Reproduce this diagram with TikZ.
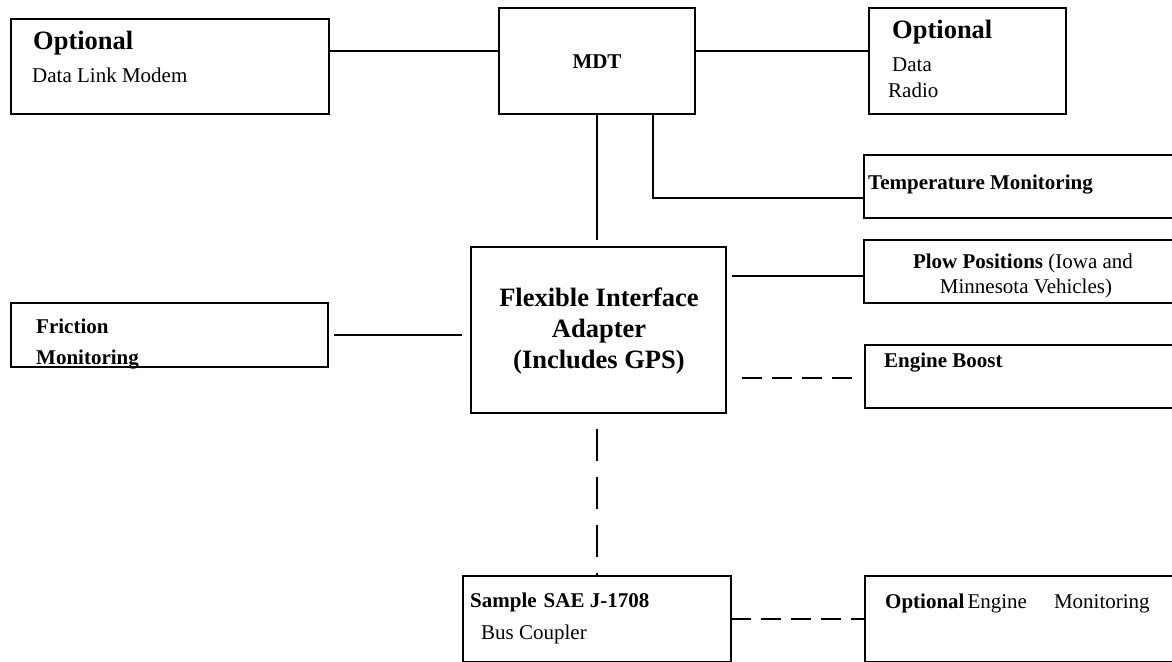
\documentclass[tikz,border=0pt]{standalone}
\usepackage{fontspec}
\setmainfont{Liberation Serif}
\usetikzlibrary{calc}
\begin{document}
\begin{tikzpicture}[x=1pt,y=-1pt,
  box/.style={draw, line width=1.6pt, rectangle, inner sep=0pt, outer sep=0pt, anchor=north west},
  txt/.style={inner sep=0pt, anchor=base west, font=\fontsize{21}{25}\selectfont},
  btxt/.style={txt, font=\fontsize{21}{25}\selectfont\bfseries},
  bigtxt/.style={txt, font=\fontsize{26.5}{31}\selectfont\bfseries},
  wire/.style={line width=1.6pt},
  hdash/.style={wire, dash pattern=on 20pt off 10pt},
  vdash/.style={wire, dash pattern=on 32pt off 16pt, dash phase=32pt}]
\useasboundingbox (0,0) rectangle (1172,661);
% boxes
\node[box, minimum width=318pt, minimum height=95pt]  (dlm)    at (11,19)   {};
\node[box, minimum width=196pt, minimum height=106pt] (mdt)    at (499,8)   {};
\node[box, minimum width=197pt, minimum height=106pt] (radio)  at (869,8)   {};
\node[box, minimum width=320pt, minimum height=63pt]  (temp)   at (864,155) {};
\node[box, minimum width=255pt, minimum height=166pt] (fia)    at (471,247) {};
\node[box, minimum width=320pt, minimum height=63pt]  (plow)   at (864,240) {};
\node[box, minimum width=317pt, minimum height=64pt]  (fric)   at (11,303)  {};
\node[box, minimum width=320pt, minimum height=63pt]  (boost)  at (865,345) {};
\node[box, minimum width=268pt, minimum height=86pt]  (sample) at (463,576) {};
\node[box, minimum width=320pt, minimum height=86pt]  (oem)    at (865,576) {};
% texts
\node[bigtxt] (t1a) at (33,50) {Optional};
\node[txt]    (t1b) at (32,82) {Data Link Modem};
\node[btxt, anchor=base] (t2) at (597,68) {MDT};
\node[bigtxt] (t3a) at (892,39) {Optional};
\node[txt]    (t3b) at (892,71) {Data};
\node[txt]    (t3c) at (888,97) {Radio};
\node[btxt]   (t4)  at (868,189) {Temperature Monitoring};
\node[inner sep=0pt, align=center, font=\fontsize{26.5}{31}\selectfont\bfseries] (t5) at (599,331) {Flexible Interface\\Adapter\\(Includes GPS)};
\node[txt, anchor=base] (t6a) at (1023,268) {\textbf{Plow Positions} (Iowa and};
\node[txt, anchor=base] (t6b) at (1026,293) {Minnesota Vehicles)};
\node[btxt]   (t7a) at (36,333) {Friction};
\node[btxt]   (t7b) at (36,364) {Monitoring};
\node[btxt]   (t8)  at (884,367) {Engine Boost};
\node[btxt]   (t9a) at (470,607) {Sample\hspace{7pt}SAE J-1708};
\node[txt]    (t9b) at (481,639) {Bus Coupler};
\node[txt]    (t10) at (885,608) {\textbf{Optional}\hspace{3pt}Engine\hspace{27pt}Monitoring};
% connectors
\coordinate (j1) at ([yshift=-32pt]dlm.north east);
\draw[wire] (j1) -- (j1 -| mdt.west);
\draw[wire] (j1 -| mdt.east) -- (j1 -| radio.west);
\draw[wire, shorten >=7pt] (mdt.south) -- (mdt.south |- fia.north);
\coordinate (k1) at ([xshift=56pt]mdt.south);
\coordinate (k2) at ([yshift=-43pt]temp.north west);
\draw[wire] (k1) |- (k2);
\coordinate (p1) at ([yshift=-36pt]plow.north west);
\draw[wire, shorten <=6pt] (p1 -| fia.east) -- (p1);
\draw[wire, shorten <=6pt, shorten >=9pt] (fric.east) -- (fric.east -| fia.west);
\coordinate (b1) at ([yshift=-1.5pt]boost.west);
\draw[hdash, shorten <=16pt, shorten >=8pt] (b1 -| fia.east) -- (b1);
\draw[vdash] (sample.north |- fia.south) -- (sample.north);
\draw[hdash] (sample.east) -- (oem.west);
\end{tikzpicture}
\end{document}
